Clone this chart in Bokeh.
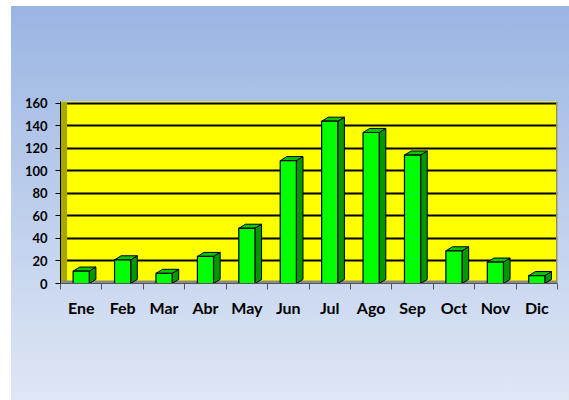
from bokeh.plotting import figure
from bokeh.models import FixedTicker, Range1d
from bokeh.embed import file_html
from bokeh.resources import INLINE

months = ["Ene", "Feb", "Mar", "Abr", "May", "Jun", "Jul", "Ago", "Sep", "Oct", "Nov", "Dic"]
values = [11, 21, 9, 24, 49, 109, 144, 134, 114, 29, 19, 7]
y_ticks = [0, 20, 40, 60, 80, 100, 120, 140, 160]

n = len(months)
bar_w = 0.39
dx = 0.16   # 3D depth in x units
dy = 3.6    # 3D depth in y units

p = figure(width=558, height=394, output_backend="svg", toolbar_location=None,
           x_range=Range1d(0, n), y_range=Range1d(0, 161.5),
           min_border_left=49, min_border_right=12, min_border_top=95, min_border_bottom=117)
p.styles = {"background": "linear-gradient(to bottom, #9ab5e3 0%, #dfe7f5 100%)",
            "margin-left": "11px", "margin-top": "6px"}
p.border_fill_color = None
p.background_fill_color = "#ffff00"
p.outline_line_color = None

# grid
p.xgrid.grid_line_color = None
p.ygrid.ticker = FixedTicker(ticks=y_ticks)
p.ygrid.grid_line_color = "black"
p.ygrid.grid_line_width = 2

# left side wall
p.quad(left=[0], right=[dx], bottom=[0], top=[y_ticks[-1] + 1.5], fill_color="#a8a800",
       line_color=None)
# right edge of back wall
p.segment(x0=[n], y0=[0], x1=[n], y1=[y_ticks[-1] + 1.5], line_color="#8c8c8c", line_width=3)
# floor
p.quad(left=[0], right=[n], bottom=[0], top=[2.6], fill_color="#8a8a8a", line_color=None)

centers = [i + 0.5 for i in range(n)]
lefts = [c - bar_w / 2 for c in centers]
rights = [c + bar_w / 2 for c in centers]

# side faces
side_xs = [[r, r + dx, r + dx, r] for r in rights]
side_ys = [[0, dy, v + dy, v] for v in values]
p.patches(side_xs, side_ys, fill_color="#009a00", line_color="black", line_width=1)
# top faces
top_xs = [[l, r, r + dx, l + dx] for l, r in zip(lefts, rights)]
top_ys = [[v, v, v + dy, v + dy] for v in values]
p.patches(top_xs, top_ys, fill_color="#00c800", line_color="black", line_width=1)
# front faces
p.quad(left=lefts, right=rights, bottom=0, top=values, fill_color="#00ff00",
       line_color="black", line_width=1.2)

# x axis
xa = p.xaxis[0]
xa.ticker = FixedTicker(ticks=centers, minor_ticks=list(range(n + 1)))
xa.major_label_overrides = {c: m for c, m in zip(centers, months)}
xa.major_tick_line_color = None
xa.major_tick_out = 0
xa.major_tick_in = 0
xa.minor_tick_line_color = "#555555"
xa.minor_tick_out = 6
xa.minor_tick_in = 0
xa.axis_line_color = "#555555"
xa.major_label_standoff = 8
xa.major_label_text_font = "Lato"
xa.major_label_text_font_style = "bold"
xa.major_label_text_font_size = "16px"
xa.major_label_text_color = "black"

# y axis
ya = p.yaxis[0]
ya.ticker = FixedTicker(ticks=y_ticks)
ya.axis_line_color = "black"
ya.major_tick_line_color = "black"
ya.major_tick_out = 5
ya.major_tick_in = 0
ya.minor_tick_line_color = None
ya.major_label_standoff = 8
ya.major_label_text_font = "Lato"
ya.major_label_text_font_style = "bold"
ya.major_label_text_font_size = "13px"
ya.major_label_text_color = "black"

open("out.html", "w").write(file_html(p, INLINE))
